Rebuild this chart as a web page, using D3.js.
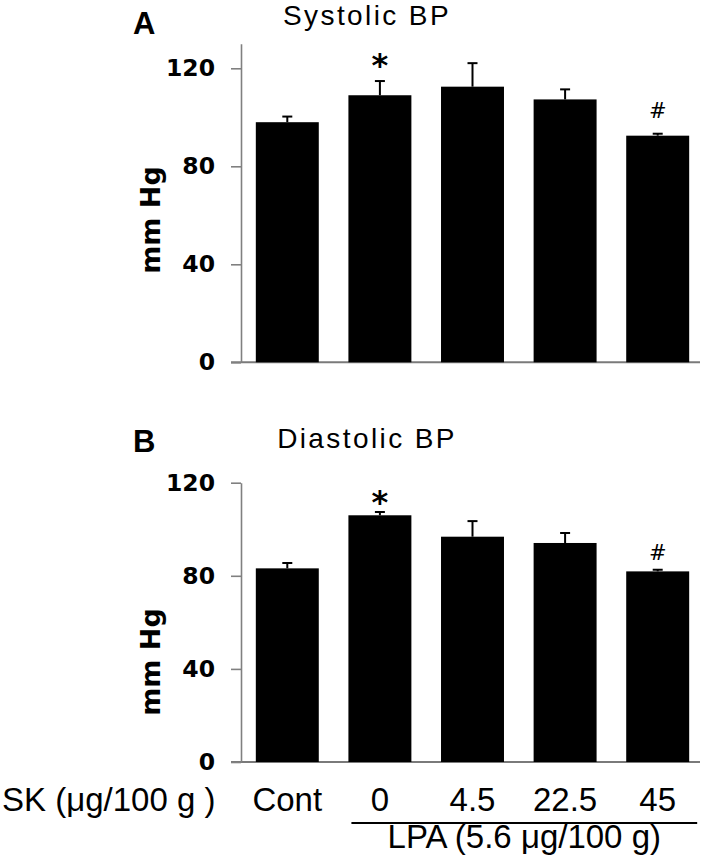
<!DOCTYPE html>
<html><head><meta charset="utf-8">
<script src="https://cdn.jsdelivr.net/npm/d3@7"></script>
<style>body{margin:0;background:#fff}svg{display:block}</style>
</head><body><svg id="c" width="709" height="860"></svg>
<script>
// ---- data ----
const categories = ["Cont", "0", "4.5", "22.5", "45"];
const systolicMean = [98, 109, 112.5, 107.3, 92.5];
const systolicSEM  = [2.3, 5.8, 9.6, 4.1, 0.8];
const systolicMarks = ["", "*", "", "", "#"];
const diastolicMean = [83.2, 106, 96.8, 94.1, 81.9];
const diastolicSEM  = [2.3, 1.4, 6.7, 4.3, 0.7];
const diastolicMarks = ["", "*", "", "", "#"];
const yTicks = [0, 40, 80, 120];
const xGroupLabel = "SK (\u03bcg/100 g )";
const lpaLabel = "LPA (5.6 \u03bcg/100 g)";

// ---- drawing ----
const svg = d3.select("#c");
const SANS = "'Liberation Sans', Arial, sans-serif";
const BOLD = "'DejaVu Sans', Verdana, sans-serif";

const x = d3.scaleBand().domain(categories).range([241, 704])
  .paddingInner(0.32).paddingOuter(0.16);

function panel(cfg) {
  const y = d3.scaleLinear().domain([0, cfg.yMax]).range([cfg.y0, cfg.yTop]);
  const g = svg.append("g");

  // baseline
  g.append("line").attr("x1", 231).attr("x2", 700)
    .attr("y1", y(0)).attr("y2", y(0))
    .attr("stroke", "#7a7a7a").attr("stroke-width", 2);

  // y axis
  const ax = g.append("g").attr("transform", "translate(241,0)")
    .call(d3.axisLeft(y).tickValues(yTicks).tickSize(10).tickSizeOuter(0).tickPadding(16));
  ax.select(".domain").attr("stroke", "#808080").attr("stroke-width", 1.6);
  ax.selectAll(".tick line").attr("stroke", "#808080").attr("stroke-width", 1.6);
  ax.selectAll(".tick text").attr("font-family", BOLD).attr("font-weight", "bold")
    .attr("font-size", 23.5).attr("fill", "#000");

  const rows = categories.map((c, i) => ({c, v: cfg.mean[i], e: cfg.sem[i], m: cfg.marks[i]}));
  const bw = x.bandwidth();

  g.selectAll("rect.bar").data(rows).join("rect").attr("class", "bar")
    .attr("x", d => x(d.c)).attr("y", d => y(d.v))
    .attr("width", bw).attr("height", d => y(0) - y(d.v))
    .attr("fill", "#000");

  g.selectAll("line.err").data(rows).join("line").attr("class", "err")
    .attr("x1", d => x(d.c) + bw / 2).attr("x2", d => x(d.c) + bw / 2)
    .attr("y1", d => y(d.v)).attr("y2", d => y(d.v + d.e))
    .attr("stroke", "#000").attr("stroke-width", 2);
  g.selectAll("line.cap").data(rows).join("line").attr("class", "cap")
    .attr("x1", d => x(d.c) + bw / 2 - 5).attr("x2", d => x(d.c) + bw / 2 + 5)
    .attr("y1", d => y(d.v + d.e)).attr("y2", d => y(d.v + d.e))
    .attr("stroke", "#000").attr("stroke-width", 2);

  // significance marks
  g.selectAll("text.mark").data(rows.filter(d => d.m)).join("text").attr("class", "mark")
    .attr("x", d => x(d.c) + bw / 2)
    .attr("y", d => {
      const center = y(d.v + d.e) - cfg.markOff;
      return d.m === "*" ? center + 0.56 * 32 : center + 0.365 * 21;
    })
    .attr("text-anchor", "middle").attr("font-family", BOLD)
    .attr("font-weight", d => d.m === "*" ? "bold" : "normal")
    .attr("font-size", d => d.m === "*" ? 32 : 21)
    .attr("fill", "#000").text(d => d.m);

  // panel letter + title
  svg.append("text").attr("x", 133).attr("y", cfg.letterY)
    .attr("font-family", SANS).attr("font-weight", "bold").attr("font-size", 31)
    .text(cfg.letter);
  svg.append("text").attr("x", 367).attr("y", cfg.titleY).attr("text-anchor", "middle")
    .attr("font-family", SANS).attr("font-size", 28).attr("letter-spacing", "2.4px")
    .text(cfg.title);

  // y label
  svg.append("text").attr("transform", `translate(160,${cfg.labelY}) rotate(-90)`)
    .attr("text-anchor", "middle").attr("font-family", BOLD).attr("font-weight", "bold")
    .attr("font-size", 27).text("mm Hg");
  return y;
}

panel({mean: systolicMean, sem: systolicSEM, marks: systolicMarks, yMax: 130,
  y0: 362.3, yTop: 43.8, markOff: 23, letter: "A", letterY: 34,
  title: "Systolic BP", titleY: 25, labelY: 220});
panel({mean: diastolicMean, sem: diastolicSEM, marks: diastolicMarks, yMax: 120,
  y0: 762, yTop: 482.7, markOff: 17, letter: "B", letterY: 452,
  title: "Diastolic BP", titleY: 448, labelY: 662});

// x labels
const bw = x.bandwidth();
svg.append("text").attr("x", 2).attr("y", 811).attr("font-family", SANS).attr("font-size", 33)
  .text(xGroupLabel);
svg.selectAll("text.cat").data(categories).join("text").attr("class", "cat")
  .attr("x", d => x(d) + bw / 2).attr("y", 811).attr("text-anchor", "middle")
  .attr("font-family", SANS).attr("font-size", 33).text(d => d);

const lx1 = x(categories[1]) + 3, lx2 = x(categories[4]) + bw + 8;
svg.append("line").attr("x1", lx1).attr("x2", lx2).attr("y1", 823).attr("y2", 823)
  .attr("stroke", "#000").attr("stroke-width", 2);
svg.append("text").attr("x", (lx1 + lx2) / 2).attr("y", 848).attr("text-anchor", "middle")
  .attr("font-family", SANS).attr("font-size", 33).text(lpaLabel);
</script></body></html>
